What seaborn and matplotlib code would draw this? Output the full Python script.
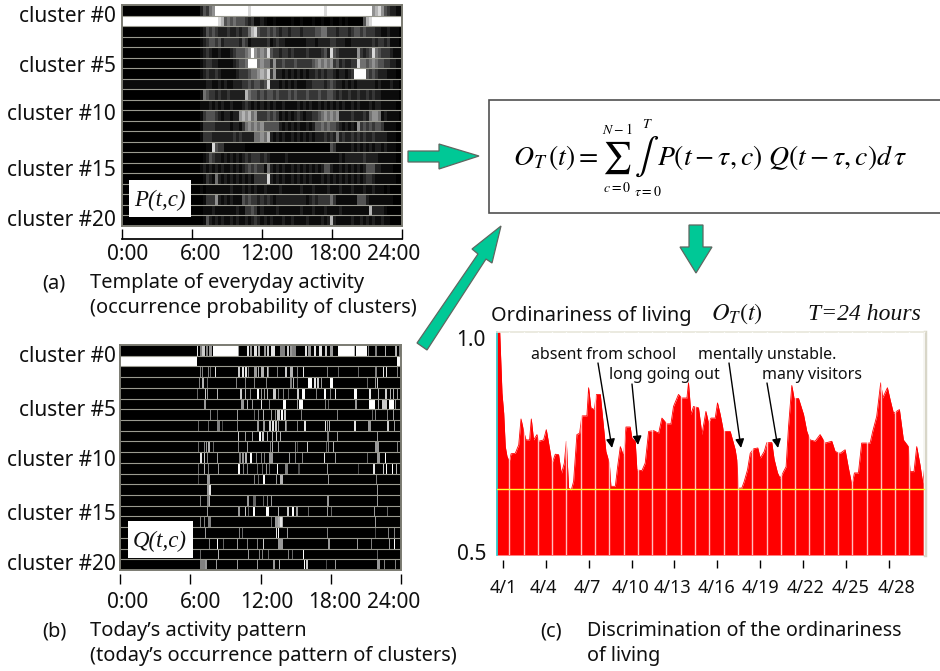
import numpy as np
import pandas as pd
import matplotlib
matplotlib.use('Agg')
import matplotlib.pyplot as plt
from matplotlib.patches import Polygon, Rectangle
import seaborn as sns

W, H = 940, 671

cluster_labels = ['cluster #0', 'cluster #5', 'cluster #10', 'cluster #15', 'cluster #20']
hour_labels = ['0:00', '6:00', '12:00', '18:00', '24:00']
date_labels = ['4/1', '4/4', '4/7', '4/10', '4/13', '4/16', '4/19', '4/22', '4/25', '4/28']
date_ticks = [1, 4, 7, 10, 13, 16, 19, 22, 25, 28]

# template P(t,c): grey level 0-9, 3 px bins from just before 6:00 to 24:00
p_rows = [
    '0243569999 9999999899 9999999999 9999999999 9989999999 9999999967 86432211',
    '9999999874 5454443231 1210010000 0100100010 0100100101 0000047899 99999999',
    '0124343222 3223233578 4334343233 2333233334 4553332333 2344343332 21121110',
    '0123443423 3333243122 2223123221 1111112221 2222332221 1222222232 33231110',
    '0123211211 1234445696 5658433233 2322223222 2342843222 2226323485 43332111',
    '0123322111 1123445999 5655363343 3343333345 6565634232 2338554565 44332211',
    '0123223211 1112333455 6768362212 1212121223 2323321221 2399994343 22211100',
    '1112211212 1122233434 4348222121 2121112233 3323432212 1212222221 21112110',
    '0154332322 3222227544 3434434333 4343334333 4334432322 3223223232 21111110',
    '0111212121 1211123212 1212121121 1112121211 2121212121 1212111212 21111100',
    '0134443212 2122676756 3334343121 2123212233 4565656222 2322232566 51211110',
    '0133332222 2122135656 5644444212 1212112124 4545443212 1216343434 43111100',
    '0133322222 2232322225 5657212121 1212121212 2232325232 2323232232 22211100',
    '0001184331 1111110000 0000000000 0000000000 0000431111 1212121212 21211100',
    '0012432212 1212123233 3232111112 1111111111 1111111212 2222232222 11111100',
    '0121212121 1212123434 3315212121 1212121212 1244211212 1212124442 21111000',
    '0013215212 1212121213 3338212121 1212121211 1212121212 1212123321 11111100',
    '0101111111 1211121212 1121111211 1111211121 1112111211 1211121121 11010000',
    '0013336212 1211143433 2323212222 2222221232 3333531111 1114442111 11111000',
    '0011121111 1112113343 1211112111 1111211121 1121111211 1111111722 22100000',
    '0014212121 1212112123 2121211121 1211112111 1212721111 1211212121 12110000',
]

# today's pattern Q(t,c): (start slot, width, level 1-10), 281 slots over 24 h
q_runs = [
    [(77,1,9),(80,2,5),(82,3,8),(86,2,5),(89,3,6),(93,25,10),(118,1,6),(127,2,9),(130,2,6),(134,3,9),(138,2,7),
     (144,2,6),(147,2,8),(151,4,9),(160,5,5),(167,2,8),(170,2,6),(172,4,5),(185,2,9),(188,3,6),(194,2,9),(199,3,9),
     (205,2,8),(210,3,6),(218,16,10),(234,1,7),(236,11,10),(248,1,5),(255,2,5),(265,1,7),(275,2,7),(279,1,5)],
    [(0,77,10),(277,4,10)],
    [(80,1,5),(82,1,5),(88,1,5),(90,1,4),(95,1,9),(118,2,8),(122,2,9),(125,2,9),(128,1,5),(134,3,6),(138,1,7),
     (141,3,7),(147,1,8),(148,1,5),(157,1,5),(165,2,8),(170,3,7),(177,1,5),(183,1,9),(207,1,5),(218,1,4),(238,1,4),
     (255,2,5),(263,1,9),(266,1,9),(277,1,5)],
    [(79,1,5),(82,2,7),(87,1,4),(116,1,5),(125,1,5),(134,1,5),(146,1,5),(170,2,5),(173,1,7),(177,1,4),(188,4,10),
     (194,2,9),(197,2,8),(201,1,6),(210,3,10),(247,1,4),(255,1,6),(257,1,8)],
    [(77,1,4),(85,1,8),(87,1,6),(97,1,7),(120,2,8),(125,1,7),(130,1,5),(137,2,10),(141,1,6),(144,1,6),(147,1,7),
     (153,3,8),(158,1,5),(163,1,5),(168,1,4),(177,2,8),(182,3,10),(196,1,5),(204,2,10),(210,1,5),(215,1,9),(234,3,10),
     (249,2,9),(258,1,7),(265,2,8),(270,1,7),(273,1,7),(277,1,6)],
    [(84,2,6),(121,3,6),(127,1,7),(132,1,6),(141,1,9),(149,1,5),(163,3,10),(177,1,6),(179,4,10),(205,1,5),(208,1,4),
     (235,2,6),(249,6,10),(258,1,7),(262,5,8),(269,5,10),(275,1,6)],
    [(90,1,5),(97,1,4),(117,1,6),(134,1,4),(138,1,5),(143,1,7),(151,1,6),(155,1,5),(157,3,8),(161,2,10),(164,2,8),
     (181,1,5),(217,1,5),(252,1,4),(255,1,5),(267,1,5),(273,1,6)],
    [(78,1,4),(88,1,4),(97,3,5),(102,1,3),(117,1,5),(137,2,6),(143,2,6),(149,2,8),(152,2,9),(155,2,8),(158,1,6),
     (165,1,7),(166,1,5),(177,1,5),(184,2,9),(205,1,9),(207,1,6),(209,1,7),(234,2,9),(248,3,6),(267,2,8),(274,1,6)],
    [(118,1,8),(125,1,6),(132,1,6),(139,2,10),(142,2,8),(147,1,7),(152,1,7),(156,1,8),(160,1,7),(207,2,5),(217,1,6),
     (257,1,6)],
    [(78,1,4),(84,1,5),(86,1,6),(88,2,7),(93,1,4),(118,1,5),(127,1,6),(150,1,5),(152,1,7),(158,1,6),(175,1,5),
     (177,1,3),(187,1,8),(206,1,4),(208,1,5),(213,1,7),(255,4,6),(277,1,5)],
    [(80,2,9),(84,1,8),(87,1,5),(97,1,6),(119,2,5),(122,2,6),(125,2,7),(130,2,10),(136,1,5),(141,1,5),(144,1,5),
     (149,4,6),(169,1,6),(175,1,5),(182,1,5),(204,1,9),(215,1,6),(247,1,4),(257,3,6),(265,1,10)],
    [(78,1,4),(84,1,7),(88,1,5),(98,1,6),(118,2,10),(123,1,5),(127,1,5),(137,1,4),(142,1,4),(146,1,6),(149,1,4),
     (157,1,10),(165,3,5),(178,2,3),(207,1,6),(238,1,3),(253,2,9),(263,1,8),(266,1,10),(272,1,10),(276,1,7)],
    [(78,1,3),(87,3,6),(134,1,5),(138,1,4),(143,2,10),(156,1,6),(160,3,7),(208,1,6),(256,1,5)],
    [(87,2,6),(89,2,9),(257,1,6)],
    [(80,1,5),(87,2,5),(89,1,7),(127,2,6),(133,3,4),(143,1,4),(147,1,5),(151,1,6),(207,2,6),(257,1,6)],
    [(87,1,6),(118,2,6),(125,1,8),(128,1,4),(133,2,10),(146,3,10),(158,1,7),(167,2,8),(172,2,10),(176,2,6),(188,1,4),
     (207,1,6),(211,1,4),(254,1,6),(267,1,4)],
    [(80,1,5),(84,1,5),(88,3,5),(151,1,4),(155,3,6),(158,2,7),(160,2,9),(162,1,7),(255,1,6)],
    [(85,1,6),(119,1,5),(122,1,4),(156,1,9),(158,1,10),(167,1,6),(207,1,5),(255,1,3),(268,1,5),(274,1,5)],
    [(89,1,5),(97,1,10),(103,1,4),(117,1,6),(127,1,5),(137,1,5),(143,1,8),(158,5,6),(208,2,6),(237,1,6),(251,1,5),
     (269,1,6),(274,1,10)],
    [(80,1,4),(98,1,7),(128,1,6),(139,1,5),(142,1,5),(148,1,4),(168,1,5),(172,1,4),(183,1,10),(257,1,4)],
    [(80,5,5),(85,2,6),(96,1,6),(117,1,6),(137,1,6),(153,2,6),(159,1,7),(184,1,10),(186,2,8),(206,1,3),(215,1,6),
     (257,3,6),(264,1,5),(275,1,5)],
]

# ordinariness curve, day of April and value
days = [0.58, 0.77, 0.93, 1.05, 1.16, 1.28, 1.44, 1.56, 1.86, 2.10, 2.26, 2.45, 2.61, 2.86, 2.98, 3.14, 3.38, 3.49,
        3.84, 4.03, 4.19, 4.43, 4.66, 4.89, 5.08, 5.29, 5.43, 5.59, 5.78, 5.94, 6.17, 6.36, 6.52, 6.87, 6.99, 7.15,
        7.39, 7.53, 7.81, 8.04, 8.20, 8.44, 8.55, 8.86, 9.02, 9.21, 9.44, 9.60, 9.90, 10.02, 10.25, 10.37, 10.72,
        10.95, 11.19, 11.54, 11.89, 12.12, 12.47, 12.75, 12.93, 13.28, 13.52, 13.87, 13.98, 14.15, 14.33, 14.68,
        14.92, 15.20, 15.38, 15.55, 15.85, 16.01, 16.20, 16.43, 16.90, 17.25, 17.36, 17.48, 17.71, 17.88, 18.11,
        18.30, 18.53, 18.83, 19.00, 19.28, 19.46, 19.81, 19.97, 20.21, 20.39, 20.58, 20.81, 20.98, 21.21, 21.37,
        21.68, 22.03, 22.26, 22.49, 22.84, 23.19, 23.54, 24.01, 24.24, 24.59, 24.94, 25.17, 25.41, 25.59, 25.87,
        26.10, 26.34, 26.69, 26.87, 27.15, 27.43, 27.57, 27.90, 28.09, 28.32, 28.74, 29.02, 29.37, 29.48, 29.76,
        29.95, 30.18, 30.37, 30.53]
ordinariness = [1.000, 1.000, 0.863, 0.818, 0.743, 0.721, 0.710, 0.727, 0.728, 0.747, 0.805, 0.777, 0.758, 0.758, 0.805,
                0.758, 0.770, 0.755, 0.758, 0.781, 0.751, 0.706, 0.726, 0.725, 0.682, 0.706, 0.755, 0.650, 0.646, 0.665,
                0.770, 0.773, 0.812, 0.812, 0.875, 0.830, 0.826, 0.860, 0.860, 0.785, 0.732, 0.706, 0.654, 0.654, 0.698,
                0.743, 0.721, 0.787, 0.787, 0.762, 0.755, 0.691, 0.689, 0.706, 0.777, 0.779, 0.773, 0.807, 0.794, 0.794,
                0.833, 0.860, 0.852, 0.852, 0.886, 0.815, 0.833, 0.830, 0.770, 0.822, 0.796, 0.807, 0.807, 0.841, 0.815,
                0.777, 0.777, 0.736, 0.713, 0.650, 0.650, 0.665, 0.691, 0.728, 0.738, 0.740, 0.717, 0.732, 0.752, 0.752,
                0.715, 0.684, 0.672, 0.684, 0.698, 0.788, 0.880, 0.851, 0.851, 0.815, 0.777, 0.758, 0.755, 0.770, 0.751,
                0.755, 0.732, 0.728, 0.736, 0.695, 0.657, 0.684, 0.684, 0.751, 0.751, 0.751, 0.777, 0.811, 0.886, 0.852,
                0.875, 0.848, 0.818, 0.826, 0.758, 0.743, 0.687, 0.687, 0.743, 0.702, 0.661, 0.702]
threshold = 0.647

GREEN = '#00c896'
EDGE = '#5f6660'
INK = '#101010'

sns.set_theme(style='white')
plt.rcParams['font.family'] = 'Noto Sans'
plt.rcParams['mathtext.fontset'] = 'stix'

fig = plt.figure(figsize=(W / 100, H / 100), dpi=100, facecolor='white')


def box(left, top, right, bottom):
    return [left / W, 1 - bottom / H, (right - left) / W, (bottom - top) / H]


def draw_map(matrix, left, top, right, bottom):
    ax = fig.add_axes(box(left, top, right, bottom))
    sns.heatmap(matrix, vmin=0, vmax=1, cmap='gray', cbar=False, xticklabels=False, yticklabels=False, ax=ax)
    ax.hlines(range(1, matrix.shape[0]), 0, matrix.shape[1], color='#9a9a90', lw=0.8)
    for s in ax.spines.values():
        s.set_visible(True)
        s.set_color('#7b7b72')
        s.set_linewidth(1.4)
    return ax


def tick_strip(left, right, top, bottom, xlim, ticks, line=True):
    ax = fig.add_axes(box(left, top, right, bottom), facecolor='none')
    ax.set_xlim(xlim)
    ax.set_yticks([])
    ax.set_xticks(ticks)
    ax.set_xticklabels([])
    ax.tick_params(axis='x', direction='in', length=bottom - top, width=1, color='black', bottom=True, pad=0)
    for name, s in ax.spines.items():
        s.set_visible(name == 'bottom' and line)
        s.set_color('black')
    return ax


# template map, the darker greys are pushed down to match the dim texture
p_matrix = np.array([[int(c) for c in r.replace(' ', '')] for r in p_rows]) / 9
p_matrix = np.hstack([np.repeat(p_matrix[:, :1], 25, axis=1), p_matrix]) ** 1.4
draw_map(pd.DataFrame(p_matrix), 122, 5, 402, 226)
tick_strip(122, 402, 232, 239, (0, 24), [0, 6, 12, 18, 24])

# today's map
q_matrix = np.zeros((21, 281))
for i, runs in enumerate(q_runs):
    for start, width, level in runs:
        q_matrix[i, start:start + width] = level / 10
draw_map(pd.DataFrame(q_matrix), 120, 345, 401, 570)
tick_strip(120, 401, 577, 584, (0, 24), [0, 6, 12, 18, 24], line=False)

# ordinariness chart
ax = fig.add_axes(box(497, 332, 925, 555))
ax.fill_between(days, ordinariness, 0.5, color='#ff0000', lw=0, zorder=1)
sns.lineplot(x=days, y=ordinariness, color='#ff0000', lw=0.6, estimator=None, sort=False, ax=ax, zorder=2)
ax.set_xlim(0.58, 30.53)
ax.set_ylim(0.5, 1.0)
ax.set_xlabel('')
ax.set_ylabel('')
ax.set_yticks([])
ax.set_xticks(np.arange(1.44, 30.5, 1.0), minor=True)
ax.set_xticks([])
ax.grid(which='minor', axis='x', color='white', lw=1.0, alpha=0.75, zorder=3)
ax.tick_params(which='both', length=0)
ax.set_axisbelow(False)
ax.axhline(threshold, color='#ffff30', lw=1.0, zorder=4)
for name, s in ax.spines.items():
    s.set_visible(name != 'bottom')
ax.spines['left'].set_color('#20c8c8')
ax.spines['left'].set_linewidth(1.2)
ax.spines['top'].set_color('#e8e6da')
ax.spines['top'].set_linewidth(1.2)
ax.spines['right'].set_color('#d8d6c8')
ax.spines['right'].set_linewidth(2.5)
tick_strip(497, 925, 562, 568, (0.58, 30.53), date_ticks, line=False)

# overlay in pixel coordinates for the text, formula box and block arrows
page = fig.add_axes([0, 0, 1, 1], facecolor='none')
page.set_xlim(0, W)
page.set_ylim(H, 0)
page.axis('off')

for label, y in zip(cluster_labels, [16, 66, 115, 170, 220]):
    page.text(116, y, label, ha='right', va='center', fontsize=15, color=INK)
for label, y in zip(cluster_labels, [356, 410, 460, 515, 565]):
    page.text(116, y, label, ha='right', va='center', fontsize=15, color=INK)
for label, x in zip(hour_labels, [128, 201, 267, 335, 394]):
    page.text(x, 255, label, ha='center', va='center', fontsize=15, color=INK)
    page.text(x, 603, label, ha='center', va='center', fontsize=15, color=INK)
for label, x in zip(date_labels, [503, 543, 587, 631, 672, 716, 761, 806, 851, 897]):
    page.text(x, 588, label, ha='center', va='center', fontsize=13, color=INK)

page.add_patch(Rectangle((129, 180), 62, 37, fc='white', ec='none'))
page.add_patch(Rectangle((128, 521), 65, 37, fc='white', ec='none'))
page.text(160, 200, 'P(t,c)', ha='center', va='center', fontsize=16.5, family='Liberation Serif', style='italic', color=INK)
page.text(160, 541, 'Q(t,c)', ha='center', va='center', fontsize=16.5, family='Liberation Serif', style='italic', color=INK)

page.text(42, 283, '(a)', va='center', fontsize=14.4, color=INK)
page.text(90, 283, 'Template of everyday activity', va='center', fontsize=14.4, color=INK)
page.text(90, 308, '(occurrence probability of clusters)', va='center', fontsize=14.4, color=INK)
page.text(42, 631, '(b)', va='center', fontsize=14.4, color=INK)
page.text(90, 631, 'Today\u2019s activity pattern', va='center', fontsize=14.4, color=INK)
page.text(90, 656, '(today\u2019s occurrence pattern of clusters)', va='center', fontsize=14.4, color=INK)
page.text(540, 631, '(c)', va='center', fontsize=14.4, color=INK)
page.text(587, 631, 'Discrimination of the ordinariness', va='center', fontsize=14.2, color=INK)
page.text(587, 656, 'of living', va='center', fontsize=14.2, color=INK)

page.text(491, 316, 'Ordinariness of living', va='center', fontsize=14.4, color=INK)
page.text(711, 314, r'$O_T(t)$', va='center', fontsize=17.5, color=INK)
page.text(808, 315, 'T=24 hours', va='center', fontsize=17, family='Liberation Serif', style='italic', color=INK)
page.text(486, 341, '1.0', ha='right', va='center', fontsize=15, color=INK)
page.text(486, 554, '0.5', ha='right', va='center', fontsize=15, color=INK)

# notes on the chart
notes = [('absent from school', 531, 355, (598, 363), (612, 448)),
         ('long going out', 609, 375, (632, 384), (638, 445)),
         ('mentally unstable.', 698, 355, (729, 363), (741, 448)),
         ('many visitors', 762, 375, (767, 383), (778, 448))]
for text, x, y, start, end in notes:
    page.text(x, y, text, va='center', fontsize=11.5, color=INK)
    page.annotate('', xy=end, xytext=start, xycoords='data', textcoords='data',
                  arrowprops=dict(arrowstyle='-|>', color='black', lw=1, mutation_scale=13, shrinkA=0, shrinkB=0))

# formula, put together piece by piece so the sum and integral get their large limits
page.add_patch(Rectangle((489, 100), 470, 113, fc='white', ec='#505050', lw=1.2))
page.text(513, 157, r'$O_T\,(t)=$', va='center', fontsize=20, color='black')
page.text(617, 158, r'$\sum$', ha='center', va='center', fontsize=23, color='black')
page.text(617, 130, r'$N-1$', ha='center', va='center', fontsize=10, color='black')
page.text(617, 189, r'$c=0$', ha='center', va='center', fontsize=10, color='black')
page.text(647, 157, r'$\int$', ha='center', va='center', fontsize=26, color='black')
page.text(647, 124, r'$T$', ha='center', va='center', fontsize=10, color='black')
page.text(648, 192, r'$\tau=0$', ha='center', va='center', fontsize=10, color='black')
page.text(657, 157, r'$P(t-\tau,c)\ Q(t-\tau,c)d\,\tau$', va='center', fontsize=20, color='black')

# block arrows
for pts in [
    [(408, 151), (439, 151), (439, 144), (479, 156), (439, 169), (439, 162), (408, 162)],
    [(689, 225), (703, 225), (703, 247), (712, 247), (696, 273), (680, 247), (689, 247)],
    [(417, 343), (478, 254), (472, 249), (501, 226), (492, 263), (486, 259), (427, 350)],
]:
    page.add_patch(Polygon(pts, closed=True, fc=GREEN, ec=EDGE, lw=0.9))

fig.savefig('out.png', dpi=100)
